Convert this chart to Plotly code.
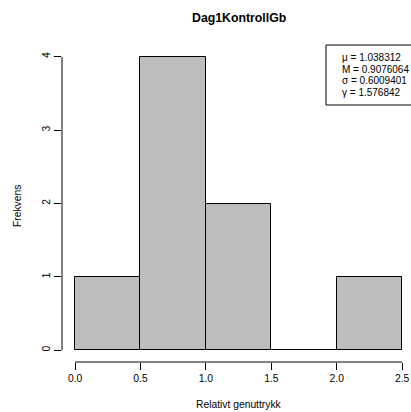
import plotly.graph_objects as go

bin_left = [0.0, 0.5, 1.0, 1.5, 2.0]
bin_width = 0.5
counts = [1, 4, 2, 0, 1]
x_ticks = [0.0, 0.5, 1.0, 1.5, 2.0, 2.5]
x_tick_labels = ["0.0", "0.5", "1.0", "1.5", "2.0", "2.5"]
y_ticks = [0, 1, 2, 3, 4]
stats_lines = ["\u03bc = 1.038312", "M = 0.9076064", "\u03c3 = 0.6009401", "\u03b3 = 1.576842"]
title = "Dag1KontrollGb"
x_title = "Relativt genuttrykk"
y_title = "Frekvens"

FONT = "Liberation Sans, Arial, Helvetica, sans-serif"
FS = 10.3

centers = [b + bin_width / 2 for b in bin_left]
fig = go.Figure(go.Bar(
    x=centers, y=counts, width=[bin_width] * len(counts),
    marker=dict(color="#BEBEBE", line=dict(color="black", width=1)),
    hoverinfo="skip",
))

fig.update_layout(
    width=411, height=412,
    margin=dict(l=62, r=0, t=45, b=50, autoexpand=False),
    plot_bgcolor="white", paper_bgcolor="white",
    showlegend=False,
    font=dict(family=FONT, size=FS, color="black"),
    xaxis=dict(range=[-0.1, 2.568], tickvals=x_ticks, ticktext=x_tick_labels,
               ticks="outside", ticklen=7, tickcolor="black", tickwidth=1,
               showgrid=False, zeroline=False, showline=False, automargin=False,
               tickfont=dict(size=FS, family=FONT)),
    yaxis=dict(range=[-0.16, 4.16], tickvals=y_ticks,
               ticks="outside", ticklen=7, tickcolor="black", tickwidth=1,
               showgrid=False, zeroline=False, showline=False, tickangle=-90,
               automargin=False, tickfont=dict(size=FS, family=FONT)),
    bargap=0,
)

def px_x(p):
    return (p - 62) / 349

def px_y(p):
    return (362 - p) / 317

shapes = [
    dict(type="line", xref="x", yref="paper", x0=x_ticks[0], x1=x_ticks[-1], y0=0, y1=0,
         line=dict(color="black", width=1)),
    dict(type="line", xref="paper", yref="y", x0=0, x1=0, y0=y_ticks[0], y1=y_ticks[-1],
         line=dict(color="black", width=1)),
    dict(type="rect", xref="paper", yref="paper", x0=px_x(326), x1=px_x(416),
         y0=px_y(105), y1=px_y(45),
         line=dict(color="black", width=1), fillcolor="white", layer="above"),
]
fig.update_layout(shapes=shapes)

ann = [
    dict(text="<b>" + title + "</b>", x=239, y=18, font=dict(size=12.3, family=FONT)),
    dict(text=x_title, x=239, y=404, font=dict(size=FS, family=FONT)),
    dict(text=y_title, x=18, y=206, textangle=-90, font=dict(size=FS, family=FONT)),
]
for i, s in enumerate(stats_lines):
    ann.append(dict(text=s, x=340, y=57 + 12 * i, xanchor="left",
                    font=dict(size=10, family=FONT)))
for a in ann:
    a["xref"] = "paper"; a["yref"] = "paper"
    a["x"] = px_x(a["x"]); a["y"] = px_y(a["y"])
    a["showarrow"] = False
    a.setdefault("xanchor", "center")
    a["yanchor"] = "middle"
fig.update_layout(annotations=ann)

fig.write_html("out.html", config={"displayModeBar": False},
               post_script="document.body.style.margin='0';document.body.style.overflow='hidden';")
